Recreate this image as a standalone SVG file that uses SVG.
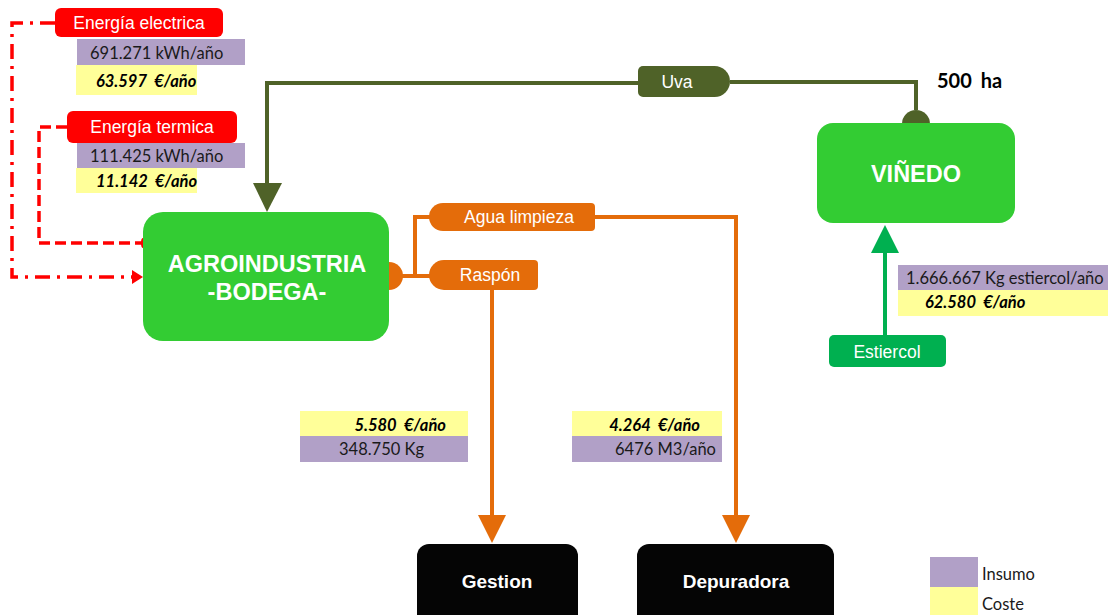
<svg xmlns="http://www.w3.org/2000/svg" width="1108" height="615" viewBox="0 0 1108 615">
  <style>
    .lbl { font-family: "Liberation Sans", Arial, sans-serif; font-size: 17.5px; fill: #ffffff; text-anchor: middle; }
    .big { font-family: "Liberation Sans", Arial, sans-serif; font-size: 23.5px; font-weight: bold; fill: #ffffff; text-anchor: middle; }
    .blk { font-family: "Liberation Sans", Arial, sans-serif; font-size: 19px; font-weight: bold; fill: #ffffff; text-anchor: middle; }
    .qty { font-family: Lato, "Open Sans", sans-serif; font-size: 16.5px; fill: #1a1a1a; }
    .cost { font-family: Lato, "Open Sans", sans-serif; font-size: 16.5px; font-weight: bold; font-style: italic; fill: #000000; }
    .insumo { fill: #b1a0c7; }
    .coste { fill: #ffff99; }
    .olive { stroke: #4f6228; stroke-width: 4; fill: none; }
    .orange { stroke: #e46c0a; stroke-width: 4; fill: none; }
    .red { stroke: #ff0000; stroke-width: 3.5; fill: none; }
  </style>

  <!-- connectors -->
  <g id="connectors">
    <!-- Uva flow: vineyard to winery -->
    <path class="olive" d="M 916 110 V 82 H 730"/>
    <path class="olive" d="M 638 83 H 267 V 186"/>
    <polygon points="253,183 282,183 267,212" fill="#4f6228"/>
    <path d="M 902 124 A 14 14 0 0 1 930 124 Z" fill="#4f6228"/>

    <!-- outputs from winery -->
    <path d="M 389 262 A 14 14 0 0 1 389 290 Z" fill="#e46c0a"/>
    <path class="orange" d="M 400 276 H 431"/>
    <path class="orange" d="M 415 276 V 217 H 431"/>
    <path class="orange" d="M 595 217 H 736 V 518"/>
    <polygon points="722,515 750,515 736,543" fill="#e46c0a"/>
    <path class="orange" d="M 492 290 V 518"/>
    <polygon points="478,515 506,515 492,543" fill="#e46c0a"/>

    <!-- energy inputs -->
    <path class="red" d="M 55 23 H 12 V 277 H 134" stroke-dasharray="15 7 3 7"/>
    <polygon points="132,270 143,277 132,284" fill="#ff0000"/>
    <path class="red" d="M 67 127 H 39 V 243 H 143" stroke-dasharray="11 5"/>
    <ellipse cx="143" cy="243" rx="2" ry="5" fill="#ff0000"/>

    <!-- manure input -->
    <path d="M 885 335 V 250" stroke="#00b050" stroke-width="4" fill="none"/>
    <polygon points="871,253 899,253 885,225" fill="#00b050"/>
  </g>

  <!-- main nodes -->
  <g id="agroindustria">
    <rect x="143" y="212" width="246" height="129" rx="20" fill="#33cc33"/>
    <text class="big" x="267" y="272">AGROINDUSTRIA</text>
    <text class="big" x="267" y="300">-BODEGA-</text>
  </g>

  <g id="vinedo">
    <rect x="817" y="123" width="198" height="100" rx="16" fill="#33cc33"/>
    <text class="big" x="916" y="182">VIÑEDO</text>
  </g>
  <text id="superficie" x="937" y="88" font-family="Lato, 'Open Sans', sans-serif" font-size="20" font-weight="bold" fill="#000000" word-spacing="4">500 ha</text>

  <g id="gestion">
    <rect x="417" y="544" width="161" height="90" rx="12" fill="#050505"/>
    <text class="blk" x="497" y="588">Gestion</text>
  </g>

  <g id="depuradora">
    <rect x="637" y="544" width="197" height="90" rx="12" fill="#050505"/>
    <text class="blk" x="736" y="588">Depuradora</text>
  </g>

  <!-- flow labels -->
  <g id="uva">
    <path d="M 643 66 H 714.5 A 15.5 15.5 0 0 1 714.5 97 H 643 A 5 5 0 0 1 638 92 V 71 A 5 5 0 0 1 643 66 Z" fill="#4f6228"/>
    <text class="lbl" x="677" y="88" font-size="17">Uva</text>
  </g>

  <g id="agua-limpieza">
    <path d="M 443 203 H 591 A 4 4 0 0 1 595 207 V 227 A 4 4 0 0 1 591 231 H 443 A 14 14 0 0 1 443 203 Z" fill="#e46c0a"/>
    <text class="lbl" x="519" y="223">Agua limpieza</text>
  </g>

  <g id="raspon">
    <path d="M 444 260 H 534 A 4 4 0 0 1 538 264 V 286 A 4 4 0 0 1 534 290 H 444 A 15 15 0 0 1 444 260 Z" fill="#e46c0a"/>
    <text class="lbl" x="490" y="281">Raspón</text>
  </g>

  <g id="estiercol">
    <rect x="829" y="335" width="117" height="32" rx="5" fill="#00b050"/>
    <text class="lbl" x="887" y="358">Estiercol</text>
  </g>

  <g id="energia-electrica">
    <rect x="55" y="8" width="168" height="29" rx="6" fill="#ff0000"/>
    <text class="lbl" x="139" y="29">Energía electrica</text>
  </g>

  <g id="energia-termica">
    <rect x="67" y="111" width="170" height="32" rx="6" fill="#ff0000"/>
    <text class="lbl" x="152" y="133">Energía termica</text>
  </g>

  <!-- quantity / cost tables -->
  <g id="datos-electrica">
    <rect class="insumo" x="77" y="39" width="168" height="26"/>
    <rect class="coste" x="76" y="65" width="121" height="30"/>
    <text class="qty" x="90" y="59">691.271 kWh/año</text>
    <text class="cost" x="96" y="87" xml:space="preserve">63.597  €/año</text>
  </g>

  <g id="datos-termica">
    <rect class="insumo" x="77" y="143" width="168" height="25"/>
    <rect class="coste" x="76" y="168" width="121" height="25"/>
    <text class="qty" x="90" y="162">111.425 kWh/año</text>
    <text class="cost" x="96" y="187" xml:space="preserve">11.142  €/año</text>
  </g>

  <g id="datos-estiercol">
    <rect class="insumo" x="898" y="265" width="210" height="25"/>
    <rect class="coste" x="898" y="290" width="210" height="26"/>
    <text class="qty" x="906" y="284">1.666.667 Kg estiercol/año</text>
    <text class="cost" x="925" y="308" xml:space="preserve">62.580  €/año</text>
  </g>

  <g id="datos-raspon">
    <rect class="coste" x="300" y="411" width="168" height="25"/>
    <rect class="insumo" x="300" y="436" width="168" height="26"/>
    <text class="cost" x="446" y="431" text-anchor="end" xml:space="preserve">5.580  €/año</text>
    <text class="qty" x="339" y="455">348.750 Kg</text>
  </g>

  <g id="datos-agua">
    <rect class="coste" x="572" y="411" width="150" height="25"/>
    <rect class="insumo" x="572" y="436" width="150" height="26"/>
    <text class="cost" x="700" y="431" text-anchor="end" xml:space="preserve">4.264  €/año</text>
    <text class="qty" x="615" y="455">6476 M3/año</text>
  </g>

  <!-- legend -->
  <g id="leyenda">
    <rect class="insumo" x="930" y="557" width="48" height="30"/>
    <rect class="coste" x="930" y="587" width="48" height="28"/>
    <text class="qty" x="982" y="580" font-size="15.5">Insumo</text>
    <text class="qty" x="982" y="610" font-size="15.5">Coste</text>
  </g>
</svg>
